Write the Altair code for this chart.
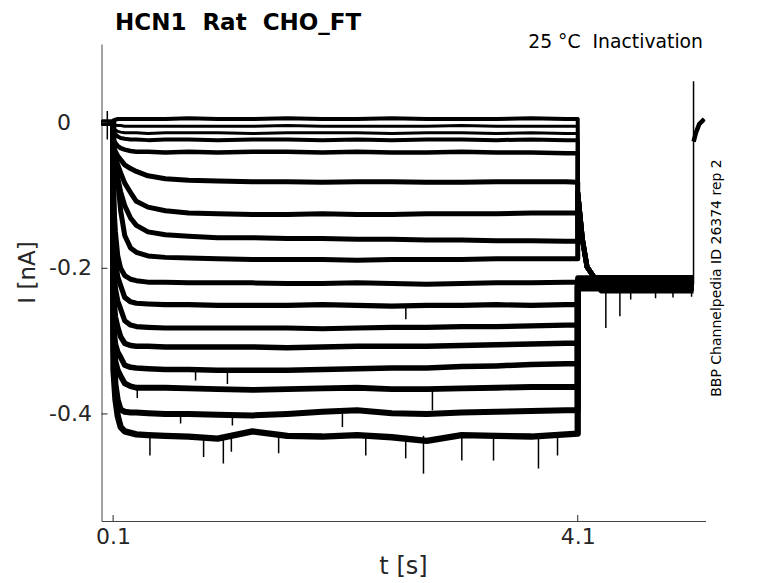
import altair as alt
import pandas as pd

# ---------------- data ----------------
T_DOMAIN = [0.0, 5.2]          # s
I_DOMAIN = [-0.547, 0.108]     # nA
X_TICKS = [0.1, 4.1]
Y_TICKS = [-0.4, -0.2, 0.0]
Y_TICK_LABELS = ["-0.4", "-0.2", "0"]

TITLE_TEXT = "HCN1\u00a0 Rat\u00a0 CHO_FT"
CONDITION_TEXT = "25 \u00b0C\u00a0 Inactivation"
SOURCE_TEXT = "BBP Channelpedia ID 26374 rep 2"
X_TITLE = "t [s]"
Y_TITLE = "I [nA]"

# holding period before the step
BASE_T = [0.0, 0.1]
BASE_V = [0.0, 0.0]

# sample times during the conditioning step
PULSE_T = [0.103, 0.12, 0.14, 0.165, 0.2, 0.25, 0.3, 0.4, 0.55, 0.75, 1.0,
           1.3, 1.6, 1.9, 2.2, 2.5, 2.8, 3.1, 3.4, 3.7, 4.0, 4.1]

I01 = [0.003, 0.004, 0.005, 0.005, 0.005, 0.005, 0.005, 0.005, 0.005, 0.006, 0.005,
       0.005, 0.006, 0.005, 0.005, 0.006, 0.005, 0.005, 0.005, 0.006, 0.005, 0.005]
I02 = [-0.002, -0.003, -0.004, -0.004, -0.005, -0.005, -0.005, -0.005, -0.005, -0.005, -0.005,
       -0.005, -0.004, -0.005, -0.005, -0.005, -0.005, -0.004, -0.005, -0.005, -0.005, -0.005]
I03 = [-0.007, -0.010, -0.012, -0.013, -0.014, -0.014, -0.014, -0.015, -0.014, -0.014, -0.014,
       -0.015, -0.014, -0.014, -0.014, -0.015, -0.014, -0.014, -0.015, -0.014, -0.015, -0.015]
I04 = [-0.012, -0.016, -0.019, -0.021, -0.022, -0.023, -0.023, -0.024, -0.023, -0.023, -0.024,
       -0.023, -0.023, -0.024, -0.023, -0.024, -0.023, -0.023, -0.024, -0.023, -0.024, -0.024]
I05 = [-0.024, -0.028, -0.032, -0.035, -0.037, -0.039, -0.040, -0.040, -0.041, -0.040, -0.041,
       -0.040, -0.040, -0.041, -0.040, -0.041, -0.041, -0.040, -0.041, -0.041, -0.042, -0.042]
I06 = [-0.032, -0.040, -0.046, -0.051, -0.058, -0.063, -0.067, -0.073, -0.077, -0.079, -0.080,
       -0.081, -0.081, -0.082, -0.081, -0.081, -0.082, -0.082, -0.081, -0.081, -0.081, -0.082]
I07 = [-0.040, -0.048, -0.058, -0.069, -0.083, -0.096, -0.108, -0.116, -0.121, -0.124, -0.125,
       -0.126, -0.126, -0.125, -0.126, -0.126, -0.125, -0.125, -0.125, -0.124, -0.124, -0.124]
I08 = [-0.047, -0.055, -0.076, -0.095, -0.114, -0.131, -0.141, -0.150, -0.154, -0.156, -0.158,
       -0.158, -0.159, -0.159, -0.160, -0.160, -0.161, -0.161, -0.162, -0.162, -0.163, -0.163]
I09 = [-0.051, -0.060, -0.080, -0.121, -0.155, -0.172, -0.178, -0.183, -0.185, -0.186, -0.187,
       -0.188, -0.188, -0.188, -0.189, -0.188, -0.188, -0.188, -0.187, -0.187, -0.187, -0.187]
I10 = [-0.105, -0.150, -0.183, -0.200, -0.210, -0.215, -0.217, -0.219, -0.219, -0.220, -0.220,
       -0.220, -0.221, -0.221, -0.220, -0.221, -0.222, -0.221, -0.220, -0.220, -0.219, -0.219]
I11 = [-0.146, -0.190, -0.212, -0.224, -0.240, -0.246, -0.248, -0.249, -0.250, -0.250, -0.251,
       -0.251, -0.251, -0.250, -0.251, -0.252, -0.251, -0.251, -0.250, -0.251, -0.250, -0.250]
I12 = [-0.187, -0.228, -0.245, -0.256, -0.272, -0.278, -0.280, -0.281, -0.282, -0.282, -0.282,
       -0.282, -0.282, -0.283, -0.282, -0.281, -0.281, -0.280, -0.280, -0.279, -0.278, -0.278]
I13 = [-0.236, -0.267, -0.281, -0.294, -0.303, -0.306, -0.307, -0.307, -0.308, -0.308, -0.308,
       -0.308, -0.309, -0.308, -0.307, -0.307, -0.307, -0.306, -0.305, -0.304, -0.303, -0.303]
I14 = [-0.277, -0.304, -0.315, -0.322, -0.333, -0.336, -0.337, -0.338, -0.339, -0.339, -0.340,
       -0.340, -0.340, -0.339, -0.338, -0.337, -0.337, -0.335, -0.334, -0.332, -0.331, -0.331]
I15 = [-0.294, -0.328, -0.340, -0.348, -0.358, -0.362, -0.364, -0.364, -0.364, -0.365, -0.366,
       -0.367, -0.366, -0.365, -0.364, -0.366, -0.366, -0.365, -0.364, -0.363, -0.363, -0.363]
I16 = [-0.311, -0.359, -0.381, -0.394, -0.397, -0.398, -0.398, -0.399, -0.400, -0.400, -0.401,
       -0.402, -0.400, -0.397, -0.395, -0.399, -0.400, -0.398, -0.397, -0.396, -0.395, -0.395]
I17 = [-0.339, -0.380, -0.403, -0.418, -0.424, -0.426, -0.428, -0.429, -0.430, -0.431, -0.434,
       -0.424, -0.430, -0.431, -0.429, -0.432, -0.437, -0.429, -0.430, -0.431, -0.428, -0.427]

TRACES = [I01, I02, I03, I04, I05, I06, I07, I08, I09,
          I10, I11, I12, I13, I14, I15, I16, I17]

# test pulse (tail) after the step
TAIL_T = [4.1, 4.14, 4.18, 4.24, 4.3, 5.097]
UPPER_TAIL_V = [-0.096, -0.160, -0.198, -0.212]   # traces above the tail level
N_UPPER = 9
TAIL_LEVEL = [-0.212, -0.229, -0.218, -0.224, -0.214, -0.227, -0.217, -0.222, -0.231,
              -0.213, -0.225, -0.220, -0.216, -0.228, -0.221, -0.219, -0.226]

# return to holding
END_T = [5.098, 5.117, 5.146, 5.19]
END_V = [-0.026, -0.014, -0.002, 0.005]

# isolated noise spikes / artefacts
SPIKE_T = [0.050, 0.417, 0.879, 1.049, 1.118, 1.525, 2.275, 2.619, 2.772, 3.102, 3.375,
           3.762, 3.926, 0.681, 1.127, 2.074, 2.849, 0.810, 1.084, 0.308, 2.620, 4.342,
           4.463, 4.556, 4.770, 4.920, 5.080, 5.097]
SPIKE_FROM = [0.016, -0.430, -0.430, -0.430, -0.430, -0.430, -0.430, -0.430, -0.430, -0.430,
              -0.430, -0.430, -0.430, -0.400, -0.400, -0.400, -0.366, -0.339, -0.339, -0.364,
              -0.251, -0.222, -0.222, -0.222, -0.222, -0.222, -0.222, -0.222]
SPIKE_TO = [-0.023, -0.457, -0.459, -0.468, -0.452, -0.454, -0.457, -0.461, -0.482, -0.464,
            -0.464, -0.475, -0.457, -0.413, -0.416, -0.418, -0.395, -0.354, -0.359, -0.378,
            -0.270, -0.282, -0.266, -0.243, -0.241, -0.240, -0.239, 0.057]

# ---------------- styles ----------------
TRACE_WIDTH = [4, 3, 3, 4, 4.5, 5, 5, 5, 5, 5, 5.2, 5.2, 5.5, 5.5, 5.8, 6, 6.3]
PLOT_W, PLOT_H = 604, 477
FONT = "DejaVu Sans"
INK = "#262626"

# ---------------- build tables ----------------
rows = []
for k, vals in enumerate(TRACES):
    assert len(vals) == len(PULSE_T)
    lvl = TAIL_LEVEL[k]
    tail_v = (UPPER_TAIL_V + [lvl, lvl]) if k < N_UPPER else [lvl] * len(TAIL_T)
    pts = list(zip(BASE_T, BASE_V)) + list(zip(PULSE_T, vals)) + list(zip(TAIL_T, tail_v))
    for j, (t, v) in enumerate(pts):
        rows.append({"t": t, "v": v, "trace": k, "order": j, "w": TRACE_WIDTH[k]})
df = pd.DataFrame(rows)
end_df = pd.DataFrame({"t": END_T, "v": END_V})
spikes = pd.DataFrame({"t": SPIKE_T, "v1": SPIKE_FROM, "v2": SPIKE_TO})
ytick_df = pd.DataFrame({"v": Y_TICKS, "txt": Y_TICK_LABELS})

xs = alt.Scale(domain=T_DOMAIN, nice=False, zero=False)
ys = alt.Scale(domain=I_DOMAIN, nice=False, zero=False)

x_axis = alt.Axis(values=X_TICKS, format=".1f", title=None, ticks=False, grid=False,
                  labelFontSize=22, labelPadding=5, labelColor=INK, labelFont=FONT,
                  domainColor="#444444", domainWidth=1, labelFlush=False)
y_axis = alt.Axis(values=Y_TICKS, title=None, ticks=False, grid=False, labels=False,
                  domainColor="#444444", domainWidth=1)

X = lambda f: alt.X(f, scale=xs, axis=x_axis)
Y = lambda f: alt.Y(f, scale=ys, axis=y_axis)

traces = alt.Chart(df).mark_line(color="black", strokeJoin="round", clip=True).encode(
    x=X("t:Q"), y=Y("v:Q"),
    detail="trace:N",
    order="order:Q",
    strokeWidth=alt.StrokeWidth("w:Q", scale=None),
)

end_layer = alt.Chart(end_df).mark_line(color="black", strokeWidth=4.5, strokeJoin="round",
                                        clip=True).encode(x=X("t:Q"), y=Y("v:Q"))

spike_layer = alt.Chart(spikes).mark_rule(color="black", strokeWidth=1.5, clip=True).encode(
    x=X("t:Q"), y=Y("v1:Q"), y2="v2:Q",
)

xtick_layer = alt.Chart(pd.DataFrame({"t": X_TICKS})).mark_rule(color=INK, strokeWidth=1).encode(
    x=X("t:Q"), y=alt.value(PLOT_H), y2=alt.value(PLOT_H - 6),
)
ytick_layer = alt.Chart(ytick_df).mark_rule(color=INK, strokeWidth=1).encode(
    y=Y("v:Q"), x=alt.value(0), x2=alt.value(6),
)
# tick labels, decimal-aligned like the original ("0" sits under the "0" of "-0.2")
ylab_neg = alt.Chart(ytick_df).transform_filter("datum.v < 0").mark_text(
    font=FONT, fontSize=22, color=INK, align="right", baseline="middle"
).encode(y=Y("v:Q"), x=alt.value(-9.5), text="txt:N")
ylab_zero = alt.Chart(ytick_df).transform_filter("datum.v == 0").mark_text(
    font=FONT, fontSize=22, color=INK, align="right", baseline="middle"
).encode(y=Y("v:Q"), x=alt.value(-30.5), text="txt:N")


def label(text, x, y, size, **kw):
    return alt.Chart(pd.DataFrame({"label": [text]})).mark_text(
        font=FONT, fontSize=size, **kw
    ).encode(x=alt.value(x), y=alt.value(y), text="label:N")


title_layer = label(TITLE_TEXT, 13.5, -14.5, 23, fontWeight="bold", align="left",
                    baseline="alphabetic", color="black")
cond_layer = label(CONDITION_TEXT, 601.5, 4, 18.8, align="right", baseline="alphabetic",
                   color="black")
source_layer = label(SOURCE_TEXT, 615, 234, 14, angle=270, align="center",
                     baseline="middle", color="black")
ytitle_layer = label(Y_TITLE, -74, 228.5, 23, angle=270, align="center",
                     baseline="middle", color=INK)
xtitle_layer = label(X_TITLE, 302, 523, 24, align="center", baseline="middle", color=INK)

chart = alt.layer(
    traces, end_layer, spike_layer, xtick_layer, ytick_layer, ylab_neg, ylab_zero,
    title_layer, cond_layer, source_layer, ytitle_layer, xtitle_layer,
).properties(
    width=PLOT_W, height=PLOT_H,
    autosize=alt.AutoSizeParams(type="none"),
    padding={"left": 93.5, "top": 36, "right": 60, "bottom": 62},
    background="white",
).configure_view(stroke=None)

chart.save("out.html", embed_options={"renderer": "svg", "actions": False})
